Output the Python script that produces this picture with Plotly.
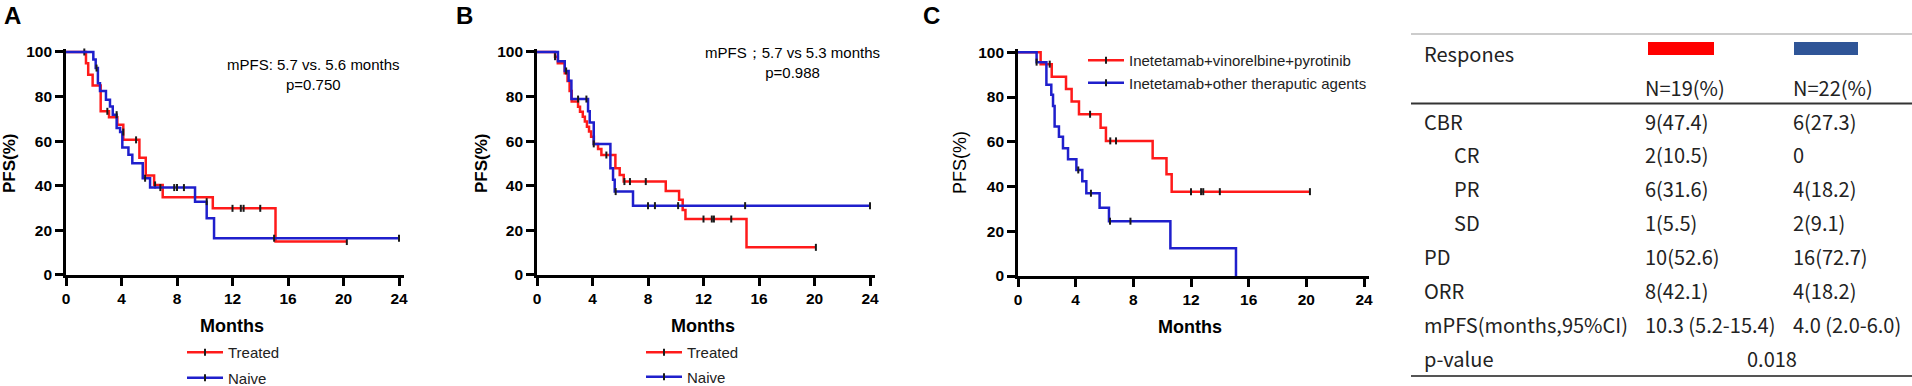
import plotly.graph_objects as go

W, H = 1912, 386

# ---------------- DATA ----------------
# Panel A: Treated vs Naive
a_treated_t = [0, 1.44, 1.6, 1.92, 2.5, 3.1, 3.7, 4.13, 5.29, 5.75, 6.35, 6.97, 10.58, 15.1, 20.24]
a_treated_s = [100, 95.0, 89.8, 85.0, 73.4, 70.7, 67.4, 60.6, 52.6, 44.6, 40.4, 34.9, 29.9, 15.0, 15.0]
a_treated_ct = [1.32, 2.98, 5.05, 6.42, 12.0, 12.6, 12.8, 14.0, 20.24]
a_treated_cs = [100, 73.4, 60.6, 40.4, 29.9, 29.9, 29.9, 29.9, 15.0]
a_naive_t = [0, 1.97, 2.14, 2.3, 2.45, 2.88, 3.17, 3.37, 3.65, 3.9, 4.06, 4.5, 4.78, 5.53, 6.06, 9.3, 10.14, 10.67, 24]
a_naive_s = [100, 96.6, 92.8, 86.0, 82.5, 78.6, 75.6, 71.9, 65.9, 64.1, 57.2, 53.9, 50.1, 43.4, 39.2, 32.9, 25.4, 16.5, 16.5]
a_naive_ct = [2.2, 3.65, 4.13, 5.7, 6.8, 7.8, 8.0, 8.5, 10.14, 15.0, 24]
a_naive_cs = [92.8, 71.9, 64.1, 43.4, 39.2, 39.2, 39.2, 39.2, 32.9, 16.5, 16.5]

# Panel B: Treated vs Naive
b_treated_t = [0, 1.3, 1.5, 2.0, 2.2, 2.35, 2.5, 2.96, 3.1, 3.3, 3.45, 3.6, 3.75, 3.9, 4.1, 4.4, 4.64, 5.65, 5.96, 6.25, 9.28, 10.24, 10.5, 10.7, 15.1, 20.1]
b_treated_s = [100, 97.9, 95.0, 90.5, 87.0, 82.5, 77.8, 75.5, 73.2, 71.0, 68.8, 66.5, 64.3, 62.0, 58.7, 56.5, 53.8, 47.9, 44.9, 41.9, 37.7, 33.7, 29.2, 25.1, 12.4, 12.4]
b_treated_ct = [1.3, 5.0, 6.3, 6.7, 7.84, 12.0, 12.6, 12.75, 14.0, 20.1]
b_treated_cs = [97.9, 53.8, 41.9, 41.9, 41.9, 25.1, 25.1, 25.1, 25.1, 12.4]
b_naive_t = [0, 1.51, 2.0, 2.28, 2.48, 3.68, 3.8, 4.09, 5.29, 5.48, 5.6, 6.92, 24]
b_naive_s = [100, 95.8, 91.5, 87.1, 78.9, 73.4, 68.4, 58.8, 47.9, 42.7, 37.4, 31.1, 31.1]
b_naive_ct = [2.1, 2.96, 3.56, 4.09, 5.67, 8.0, 8.5, 10.17, 15.0, 24]
b_naive_cs = [91.5, 78.9, 78.9, 58.8, 37.4, 31.1, 31.1, 31.1, 31.1, 31.1]

# Panel C: Inetetamab combinations
c_vp_t = [0, 1.57, 2.34, 3.33, 3.72, 4.23, 5.73, 6.1, 9.34, 10.3, 10.66, 20.25]
c_vp_s = [100, 94.7, 89.1, 83.6, 78.0, 72.3, 66.3, 60.4, 52.6, 45.5, 37.7, 37.7]
c_vp_ct = [2.2, 5.0, 6.4, 6.8, 12.0, 12.7, 12.85, 14.0, 20.25]
c_vp_cs = [94.7, 72.3, 60.4, 60.4, 37.7, 37.7, 37.7, 37.7, 37.7]
c_other_t = [0, 1.29, 1.97, 2.31, 2.43, 2.54, 2.84, 3.12, 3.47, 4.05, 4.46, 4.74, 5.66, 6.31, 10.57, 15.12]
c_other_s = [100, 95.6, 85.5, 81.0, 76.0, 66.8, 62.2, 57.1, 52.2, 47.4, 42.3, 37.0, 30.5, 24.5, 12.4, 0]
c_other_ct = [1.29, 4.18, 5.06, 6.38, 7.8]
c_other_cs = [95.6, 47.4, 37.0, 24.5, 24.5]

x_ticks = [0, 4, 8, 12, 16, 20, 24]
y_ticks = [0, 20, 40, 60, 80, 100]

# Table
tbl_header = ["Respones", "N=19(%)", "N=22(%)"]
tbl_rows = ["CBR", "CR", "PR", "SD", "PD", "ORR", "mPFS(months,95%CI)", "p-value"]
tbl_col1 = ["9(47.4)", "2(10.5)", "6(31.6)", "1(5.5)", "10(52.6)", "8(42.1)", "10.3 (5.2-15.4)", ""]
tbl_col2 = ["6(27.3)", "0", "4(18.2)", "2(9.1)", "16(72.7)", "4(18.2)", "4.0 (2.0-6.0)", ""]
tbl_p = "0.018"

# ---------------- STYLE ----------------
RED = "#FF1A1A"
BLUE = "#1F1FCC"
TICKC = "#1a1a1a"
FONT = "Arial, Liberation Sans, sans-serif"
TFONT = "Noto Sans CJK SC, Noto Sans, sans-serif"


def px(x):
    return x / W


def py(y):
    return 1 - y / H


XMAX, YMAX = 24.35, 101.5
panels = {
    # name: (x0px, x24px, y0px, y100px)
    "A": (66, 399, 275, 52),
    "B": (537, 870, 275, 52),
    "C": (1018, 1364, 276, 52.3),
}

fig = go.Figure()
layout = dict(
    width=W, height=H, margin=dict(l=0, r=0, t=0, b=0, autoexpand=False),
    paper_bgcolor="white", plot_bgcolor="white",
    showlegend=True,
)

axis_ids = {"A": ("x", "y", "xaxis", "yaxis"),
            "B": ("x2", "y2", "xaxis2", "yaxis2"),
            "C": ("x3", "y3", "xaxis3", "yaxis3")}

for name, (x0, x24, y0, y100) in panels.items():
    xr, yr, xa, ya = axis_ids[name]
    xend = x0 + (x24 - x0) * XMAX / 24
    ytop = y0 - (y0 - y100) * YMAX / 100
    common = dict(showline=True, linewidth=2.6, linecolor="black", ticks="outside",
                  ticklen=8, tickwidth=2.6, tickcolor="black", showgrid=False,
                  zeroline=False, mirror=False, automargin=False,
                  tickfont=dict(family=FONT, size=15.5, color="black", weight="bold"))
    layout[xa] = dict(domain=[px(x0), px(xend)], range=[0, XMAX], anchor=yr,
                      tickvals=x_ticks, **common)
    layout[ya] = dict(domain=[py(y0), py(ytop)], range=[0, YMAX], anchor=xr,
                      tickvals=y_ticks, **common)


def add_km(t, s, ct, cs, color, xr, yr):
    fig.add_trace(go.Scatter(x=t, y=s, mode="lines", line=dict(color=color, width=2.5, shape="hv"),
                             xaxis=xr, yaxis=yr, showlegend=False, hoverinfo="skip"))
    fig.add_trace(go.Scatter(x=ct, y=cs, mode="markers",
                             marker=dict(symbol="line-ns-open", size=5, color=TICKC,
                                         line=dict(width=2, color=TICKC)),
                             xaxis=xr, yaxis=yr, showlegend=False, cliponaxis=False, hoverinfo="skip"))


def add_legend_entry(label, color, legend, xr, yr):
    fig.add_trace(go.Scatter(x=[None], y=[None], mode="lines+markers", name=label,
                             line=dict(color=color, width=2.5),
                             marker=dict(symbol="line-ns-open", size=5, color=TICKC,
                                         line=dict(width=2, color=TICKC)),
                             xaxis=xr, yaxis=yr, legend=legend, legendgroup=legend + label))


add_km(a_treated_t, a_treated_s, a_treated_ct, a_treated_cs, RED, "x", "y")
add_km(a_naive_t, a_naive_s, a_naive_ct, a_naive_cs, BLUE, "x", "y")
add_km(b_treated_t, b_treated_s, b_treated_ct, b_treated_cs, RED, "x2", "y2")
add_km(b_naive_t, b_naive_s, b_naive_ct, b_naive_cs, BLUE, "x2", "y2")
add_km(c_vp_t, c_vp_s, c_vp_ct, c_vp_cs, RED, "x3", "y3")
add_km(c_other_t, c_other_s, c_other_ct, c_other_cs, BLUE, "x3", "y3")

add_legend_entry("Treated", RED, "legend", "x", "y")
add_legend_entry("Naive", BLUE, "legend", "x", "y")
add_legend_entry("Treated", RED, "legend2", "x2", "y2")
add_legend_entry("Naive", BLUE, "legend2", "x2", "y2")
add_legend_entry("Inetetamab+vinorelbine+pyrotinib", RED, "legend3", "x3", "y3")
add_legend_entry("Inetetamab+other theraputic agents", BLUE, "legend3", "x3", "y3")

leg_common = dict(bgcolor="rgba(0,0,0,0)", borderwidth=0, xanchor="left", yanchor="top",
                  font=dict(family=FONT, size=15, color="#222"), itemwidth=36,
                  itemclick=False, itemdoubleclick=False)
layout["legend"] = dict(x=px(182), y=py(336), tracegroupgap=3, **leg_common)
layout["legend2"] = dict(x=px(641), y=py(336), tracegroupgap=2, **leg_common)
layout["legend3"] = dict(x=px(1083), y=py(44), tracegroupgap=0, **leg_common)

ann = []


def text(x, y, s, size=15, bold=False, xanchor="center", family=FONT, color="black", yanchor="middle", angle=0):
    ann.append(dict(x=px(x), y=py(y), xref="paper", yref="paper", text=s, showarrow=False,
                    xanchor=xanchor, yanchor=yanchor, textangle=angle,
                    font=dict(family=family, size=size, color=color, weight="bold" if bold else "normal")))


# panel letters
text(2, 15, "A", size=24, bold=True, xanchor="left")
text(454, 15, "B", size=24, bold=True, xanchor="left")
text(921, 15, "C", size=24, bold=True, xanchor="left")
# axis titles
for cx in (232, 703):
    text(cx, 326, "Months", size=18, bold=True)
text(1190, 327, "Months", size=18, bold=True)
for cx in (10, 482):
    text(cx, 163, "PFS(%)", size=17, bold=True, angle=-90)
text(960, 163, "PFS(%)", size=18, bold=False, angle=-90)
# stats annotations
text(313, 74, "mPFS: 5.7 vs. 5.6 months<br>p=0.750", size=15)
text(792, 62, "mPFS；5.7 vs 5.3 months<br>p=0.988", size=15)

# ---------------- TABLE ----------------
shapes = []
shapes.append(dict(type="line", xref="paper", yref="paper", x0=px(1411), x1=px(1912), y0=py(34), y1=py(34),
                   line=dict(color="#9a9a9a", width=1.2)))
shapes.append(dict(type="line", xref="paper", yref="paper", x0=px(1411), x1=px(1912), y0=py(103.5), y1=py(103.5),
                   line=dict(color="#333333", width=2)))
shapes.append(dict(type="line", xref="paper", yref="paper", x0=px(1411), x1=px(1912), y0=py(376), y1=py(376),
                   line=dict(color="#555555", width=2)))
shapes.append(dict(type="rect", xref="paper", yref="paper", x0=px(1648), x1=px(1714), y0=py(55), y1=py(42),
                   fillcolor="#FF0000", line=dict(width=0)))
shapes.append(dict(type="rect", xref="paper", yref="paper", x0=px(1794), x1=px(1858), y0=py(55), y1=py(42),
                   fillcolor="#2F5597", line=dict(width=0)))

TS = 20
TC = "#222222"
text(1422, 53, tbl_header[0], size=TS, xanchor="left", family=TFONT, color=TC)
text(1643, 87, tbl_header[1], size=TS, xanchor="left", family=TFONT, color=TC)
text(1791, 87, tbl_header[2], size=TS, xanchor="left", family=TFONT, color=TC)
row_y0, row_dy = 121, 33.9
indented = {"CR", "PR", "SD"}
for i, lab in enumerate(tbl_rows):
    yy = row_y0 + i * row_dy
    text(1452 if lab in indented else 1422, yy, lab, size=TS, xanchor="left", family=TFONT, color=TC)
    if tbl_col1[i]:
        text(1643, yy, tbl_col1[i], size=TS, xanchor="left", family=TFONT, color=TC)
    if tbl_col2[i]:
        text(1791, yy, tbl_col2[i], size=TS, xanchor="left", family=TFONT, color=TC)
text(1772, row_y0 + 7 * row_dy, tbl_p, size=TS, xanchor="center", family=TFONT, color=TC)

layout["annotations"] = ann
layout["shapes"] = shapes
fig.update_layout(**layout)
fig.write_html("out.html", config={"displayModeBar": False},
               post_script="document.body.style.margin='0';document.body.style.overflow='hidden';")
